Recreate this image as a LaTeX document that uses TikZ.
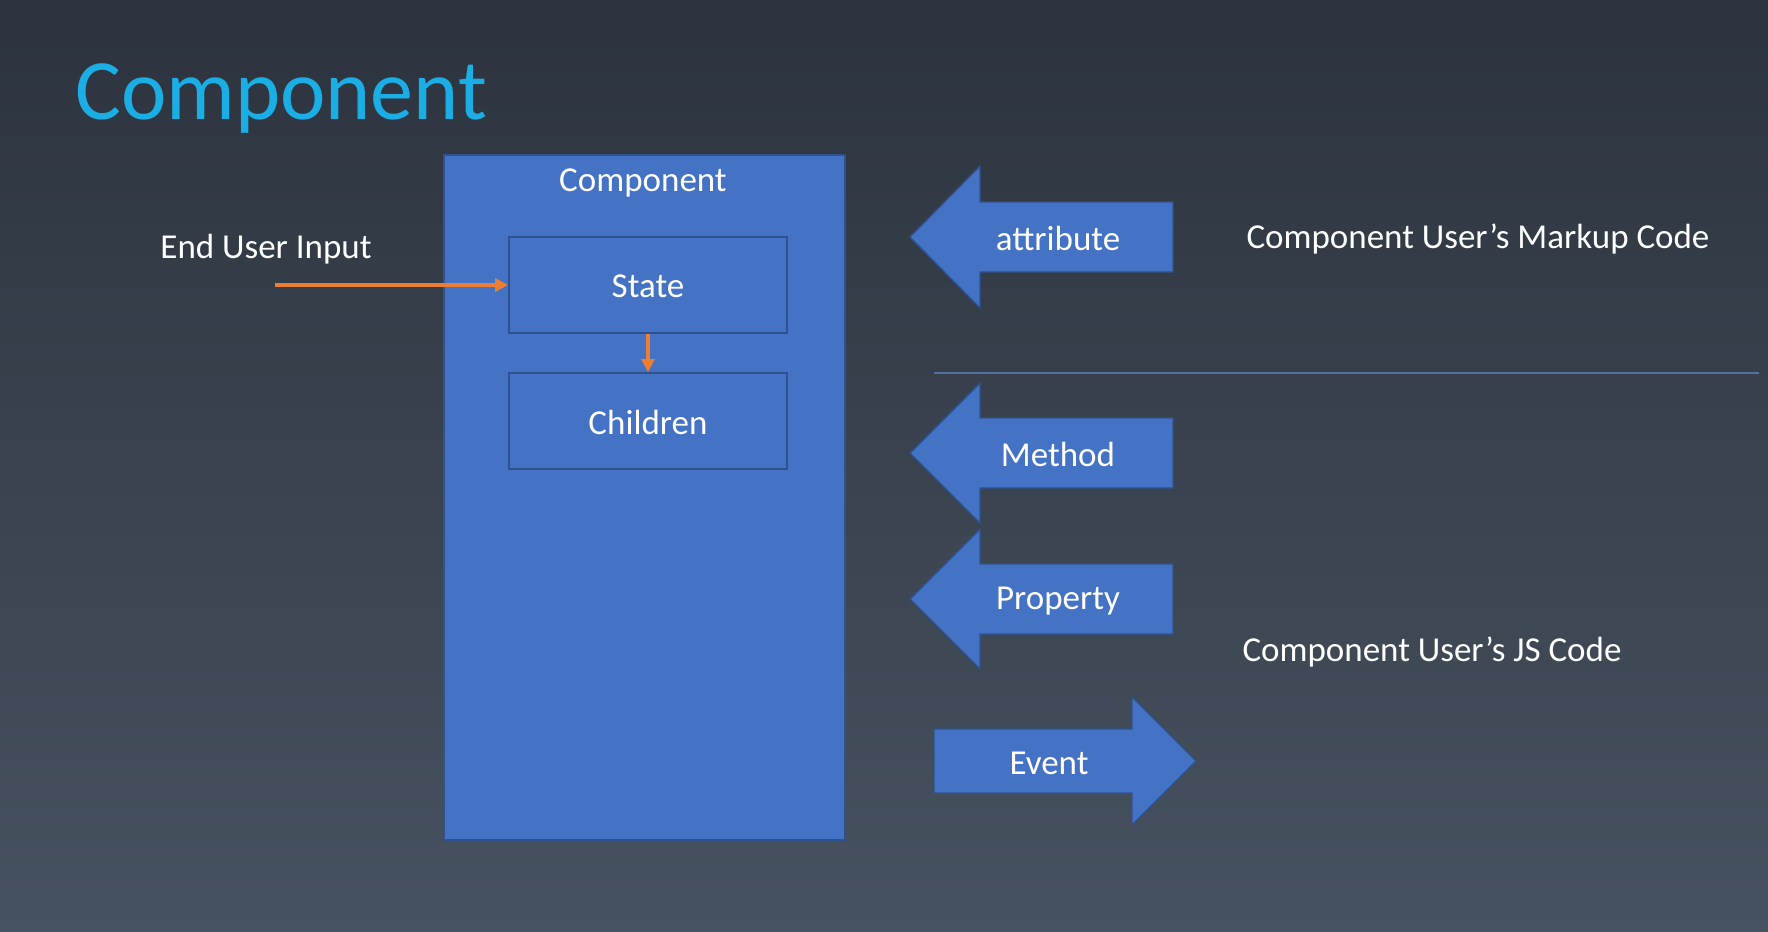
\documentclass[tikz,border=0pt]{standalone}
\usepackage{fontspec}
\setmainfont{Carlito}
\usetikzlibrary{arrows.meta}
\definecolor{bgtop}{RGB}{44,51,62}
\definecolor{bgbot}{RGB}{71,82,96}
\definecolor{boxblue}{RGB}{68,114,196}
\definecolor{boxedge}{RGB}{47,82,143}
\definecolor{flow}{RGB}{237,125,49}
\definecolor{titleblue}{RGB}{27,174,229}
\definecolor{rule}{RGB}{84,112,158}

\begin{document}
\begin{tikzpicture}[x=0.5pt,y=-0.5pt,
  lbl/.style={text=white,font=\fontsize{17.5}{21}\selectfont,inner sep=0pt},
  panel/.style={fill=boxblue,draw=boxedge,line width=0.9pt},
  inbox/.style={panel,minimum width=139pt,minimum height=48pt,inner sep=0pt},
  bigarrow/.style={fill=boxblue,draw=boxedge,line width=0.7pt,line join=miter},
  flowarrow/.style={draw=flow,line width=1.7pt,-{Triangle[length=6.5pt,width=6.5pt]}}]

% backdrop
\shade[top color=bgtop,bottom color=bgbot] (0,0) rectangle (1768,932);
\useasboundingbox (0,0) rectangle (1768,932);

% heading
\node[anchor=base west,text=titleblue,font=\fontsize{43}{50}\selectfont,inner sep=0pt]
  (title) at (75,119) {Component};

% the component and its inner parts
\node[panel,anchor=north west,minimum width=200.5pt,minimum height=342.5pt,inner sep=0pt]
  (comp) at (443,154) {};
\node[lbl] (compname) at (643,183) {Component};
\node[inbox] (state) at (648,285) {};
\node[lbl] at ([yshift=-0.5pt]state.center) {State};
\node[inbox] (children) at (648,421) {};
\node[lbl] at ([yshift=-0.5pt]children.center) {Children};

% end user input
\node[lbl] (input) at (266,249) {End User Input};
\coordinate (inputstart) at (275,285);
\draw[flowarrow] (inputstart) -- (state.west);
\draw[flowarrow] (state.south) -- (children.north);

% incoming block arrows
\draw[bigarrow] (910,237) -- (980,166) -- (980,202) -- (1173,202) -- (1173,272)
  -- (980,272) -- (980,308) -- cycle;
\node[lbl] (attr) at (1058,238) {attribute};

\draw[bigarrow] (910,453) -- (980,383) -- (980,418) -- (1173,418) -- (1173,488)
  -- (980,488) -- (980,523) -- cycle;
\node[lbl] (method) at (1058,454) {Method};

\draw[bigarrow] (910,599) -- (980,529) -- (980,564) -- (1173,564) -- (1173,634)
  -- (980,634) -- (980,669) -- cycle;
\node[lbl] (prop) at (1058,601) {Property};

% outgoing block arrow
\draw[bigarrow] (1196,761) -- (1132,697) -- (1132,729) -- (934,729) -- (934,793)
  -- (1132,793) -- (1132,825) -- cycle;
\node[lbl] (event) at (1049,763) {Event};

% divider between markup and script users
\coordinate (ruleL) at (934,373);
\coordinate (ruleR) at (1759,373);
\draw[rule,line width=0.8pt] (ruleL) -- (ruleR);

\node[lbl] (markup) at (1478,239) {Component User’s Markup Code};
\node[lbl] (jscode) at (1432,652) {Component User’s JS Code};
\end{tikzpicture}
\end{document}
